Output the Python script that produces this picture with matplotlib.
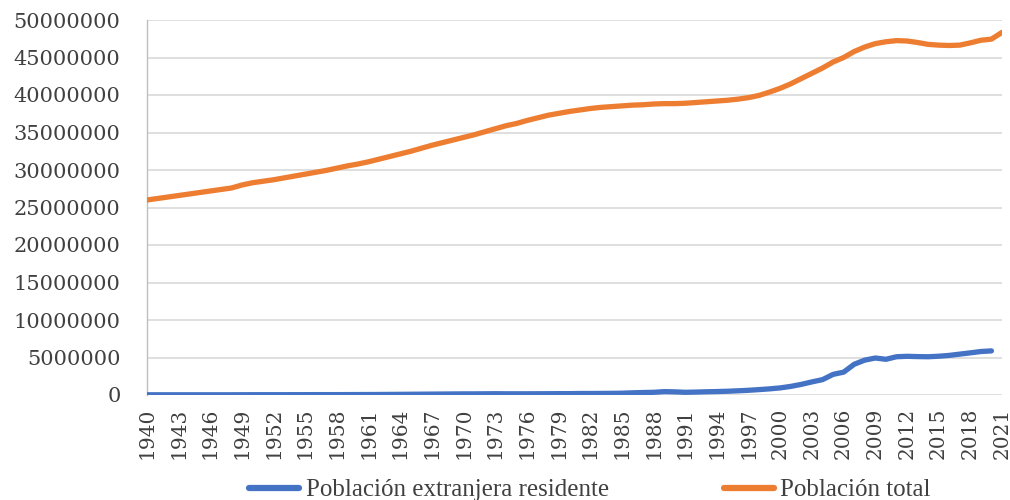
import numpy as np
import matplotlib
matplotlib.use("Agg")
import matplotlib.pyplot as plt

years = list(range(1940, 2022))

# Población total (millions)
total_m = [
    26.0, 26.2, 26.4, 26.6, 26.8, 27.0, 27.2, 27.4, 27.6, 28.0,   # 1940-1949
    28.3, 28.5, 28.7, 28.95, 29.2, 29.45, 29.7, 29.95, 30.25, 30.55,  # 1950-1959
    30.8, 31.1, 31.45, 31.8, 32.15, 32.5, 32.9, 33.3, 33.65, 34.0,  # 1960-1969
    34.35, 34.7, 35.1, 35.5, 35.9, 36.2, 36.6, 36.95, 37.3, 37.55,  # 1970-1979
    37.8, 38.0, 38.2, 38.35, 38.45, 38.55, 38.65, 38.7, 38.8, 38.85,  # 1980-1989
    38.85, 38.9, 39.0, 39.1, 39.2, 39.3, 39.45, 39.65, 39.95, 40.4,  # 1990-1999
    40.9, 41.5, 42.2, 42.9, 43.6, 44.4, 45.0, 45.8, 46.4, 46.85,  # 2000-2009
    47.1, 47.25, 47.2, 47.0, 46.75, 46.65, 46.6, 46.65, 46.95, 47.3,  # 2010-2019
    47.45, 48.35,  # 2020-2021
]

# Población extranjera residente (millions), no value for 2021
foreign_m = [
    0.03, 0.03, 0.03, 0.03, 0.03, 0.03, 0.03, 0.03, 0.03, 0.035,
    0.04, 0.04, 0.04, 0.04, 0.045, 0.045, 0.05, 0.05, 0.05, 0.055,
    0.06, 0.065, 0.07, 0.08, 0.09, 0.10, 0.11, 0.12, 0.13, 0.14,
    0.15, 0.15, 0.16, 0.17, 0.16, 0.16, 0.16, 0.165, 0.17, 0.18,
    0.18, 0.20, 0.20, 0.21, 0.22, 0.24, 0.29, 0.33, 0.36, 0.45,
    0.42, 0.36, 0.39, 0.43, 0.46, 0.50, 0.56, 0.63, 0.72, 0.82,
    0.95, 1.15, 1.42, 1.75, 2.05, 2.75, 3.05, 4.1, 4.65, 4.93,
    4.76, 5.1, 5.16, 5.12, 5.1, 5.17, 5.28, 5.45, 5.62, 5.8,
    5.88, np.nan,
]

labels = ["Población extranjera residente", "Población total"]
colors = ["#4472C4", "#ED7D31"]

total = np.array(total_m) * 1e6
foreign = np.array(foreign_m) * 1e6
x = np.arange(len(years))

fig = plt.figure(figsize=(10.1, 5.0), dpi=100)
ax = fig.add_axes([147/1010, 1 - 395/500, (1002 - 147)/1010, 375/500])

ax.plot(x, foreign, color=colors[0], lw=3.8, solid_capstyle="round", label=labels[0], zorder=3)
ax.plot(x, total, color=colors[1], lw=3.8, solid_capstyle="round", label=labels[1], zorder=3)

ax.set_xlim(0, len(years) - 1)
ax.set_ylim(0, 50e6)
ax.set_yticks(np.arange(0, 50e6 + 1, 5e6))
ax.set_yticklabels([f"{int(v)}" for v in np.arange(0, 50e6 + 1, 5e6)],
                   fontfamily="DejaVu Serif", fontsize=15, color="#404040")
tick_idx = x[::3]
ax.set_xticks(tick_idx)
ax.set_xticklabels([str(years[i]) for i in tick_idx], rotation=90,
                   fontfamily="DejaVu Serif", fontsize=14.5, color="#404040")

ax.grid(axis="y", color="#d9d9d9", lw=1.2, zorder=0)
ax.set_axisbelow(True)
for s in ["top", "right", "bottom"]:
    ax.spines[s].set_visible(False)
ax.spines["left"].set_color("#bfbfbf")
ax.spines["left"].set_linewidth(1.0)
ax.tick_params(axis="both", length=0)
ax.tick_params(axis="y", pad=19)
ax.tick_params(axis="x", pad=9)

leg = fig.legend(loc="center", bbox_to_anchor=(590/1010, 1 - 490/500), ncol=2,
                 frameon=False, handlelength=2.0, handletextpad=0.25,
                 columnspacing=4.6, prop={"family": "Liberation Serif", "size": 18})
for t in leg.get_texts():
    t.set_color("#404040")
for h in leg.get_lines():
    h.set_linewidth(4.5)

fig.savefig("out.png", dpi=100)
